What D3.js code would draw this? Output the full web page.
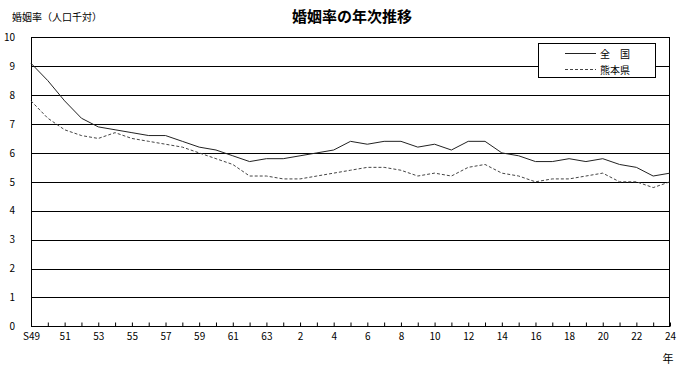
<!DOCTYPE html>
<html>
<head>
<meta charset="utf-8">
<script src="https://cdn.jsdelivr.net/npm/d3@7"></script>
<style>
  body { margin: 0; background: #fff; }
  svg text { font-family: "Noto Sans CJK JP", "Liberation Sans", sans-serif; }
</style>
</head>
<body>
<div id="chart"></div>
<script>
const years = [
  "S49", "S50", "S51", "S52", "S53", "S54", "S55", "S56", "S57", "S58",
  "S59", "S60", "S61", "S62", "S63",
  "H1", "H2", "H3", "H4", "H5", "H6", "H7", "H8", "H9", "H10",
  "H11", "H12", "H13", "H14", "H15", "H16", "H17", "H18", "H19", "H20",
  "H21", "H22", "H23", "H24"
];
// every other year gets a label
const tickLabels = [
  "S49", "", "51", "", "53", "", "55", "", "57", "", "59", "", "61", "", "63",
  "", "2", "", "4", "", "6", "", "8", "", "10", "", "12", "", "14", "",
  "16", "", "18", "", "20", "", "22", "", "24"
];
const zenkoku = [
  9.1, 8.5, 7.8, 7.2, 6.9, 6.8, 6.7, 6.6, 6.6, 6.4, 6.2, 6.1, 5.9, 5.7, 5.8,
  5.8, 5.9, 6.0, 6.1, 6.4, 6.3, 6.4, 6.4, 6.2, 6.3, 6.1, 6.4, 6.4, 6.0, 5.9,
  5.7, 5.7, 5.8, 5.7, 5.8, 5.6, 5.5, 5.2, 5.3
];
const kumamoto = [
  7.8, 7.2, 6.8, 6.6, 6.5, 6.7, 6.5, 6.4, 6.3, 6.2, 6.0, 5.8, 5.6, 5.2, 5.2,
  5.1, 5.1, 5.2, 5.3, 5.4, 5.5, 5.5, 5.4, 5.2, 5.3, 5.2, 5.5, 5.6, 5.3, 5.2,
  5.0, 5.1, 5.1, 5.2, 5.3, 5.0, 5.0, 4.8, 5.0
];
const yTicks = [0, 1, 2, 3, 4, 5, 6, 7, 8, 9, 10];

const width = 692;
const height = 369;
const plotLeft = 31, plotRight = 670, plotTop = 37.3, plotBottom = 326.3;

const svg = d3.select("#chart").append("svg")
  .attr("width", width)
  .attr("height", height);

const x = d3.scaleLinear().domain([0, years.length - 1]).range([plotLeft, plotRight]);
const y = d3.scaleLinear().domain([0, 10]).range([plotBottom, plotTop]);

// grid
svg.append("g")
  .selectAll("line")
  .data(yTicks.filter((d) => d > 0 && d < 10))
  .enter()
  .append("line")
  .attr("x1", plotLeft)
  .attr("x2", plotRight)
  .attr("y1", (d) => Math.round(y(d)) + 0.5)
  .attr("y2", (d) => Math.round(y(d)) + 0.5)
  .attr("stroke", "#000")
  .attr("stroke-width", 1);

// frame
svg.append("rect")
  .attr("x", plotLeft + 0.5)
  .attr("y", Math.round(plotTop) + 0.5)
  .attr("width", plotRight - plotLeft - 1)
  .attr("height", Math.round(plotBottom) - Math.round(plotTop))
  .attr("fill", "none")
  .attr("stroke", "#000");

// y axis labels
const yAxis = svg.append("g")
  .attr("transform", `translate(${plotLeft},0)`)
  .call(d3.axisLeft(y).tickValues(yTicks).tickSize(0).tickPadding(16));
yAxis.select(".domain").remove();
yAxis.selectAll("text").attr("font-size", 10).attr("fill", "#000");

// x axis: inner ticks + labels
const xAxis = svg.append("g")
  .attr("transform", `translate(0,${Math.round(plotBottom) + 0.5})`)
  .call(
    d3.axisBottom(x)
      .tickValues(d3.range(years.length))
      .tickSize(-4)
      .tickPadding(6)
      .tickFormat((i) => tickLabels[i])
  );
xAxis.select(".domain").remove();
xAxis.selectAll("line").attr("stroke", "#000");
xAxis.selectAll("text").attr("font-size", 10).attr("fill", "#000");

// series
const line = d3.line()
  .x((d, i) => x(i))
  .y((d) => y(d));

svg.append("path")
  .datum(zenkoku)
  .attr("d", line)
  .attr("fill", "none")
  .attr("stroke", "#222")
  .attr("stroke-width", 1);

svg.append("path")
  .datum(kumamoto)
  .attr("d", line)
  .attr("fill", "none")
  .attr("stroke", "#444")
  .attr("stroke-width", 1)
  .attr("stroke-dasharray", "3,2");

// titles
svg.append("text")
  .attr("x", 352)
  .attr("y", 22)
  .attr("text-anchor", "middle")
  .attr("font-size", 15)
  .attr("font-weight", "bold")
  .text("婚姻率の年次推移");

svg.append("text")
  .attr("x", 12)
  .attr("y", 21)
  .attr("font-size", 10)
  .text("婚姻率（人口千対）");

svg.append("text")
  .attr("x", 668)
  .attr("y", 363)
  .attr("text-anchor", "middle")
  .attr("font-size", 11)
  .text("年");

// legend
const legend = svg.append("g");
legend.append("rect")
  .attr("x", 538.5)
  .attr("y", 43.5)
  .attr("width", 117)
  .attr("height", 34)
  .attr("fill", "#fff")
  .attr("stroke", "#000");

const legendItems = [
  { name: "全　国", dash: null, stroke: "#222" },
  { name: "熊本県", dash: "3,2", stroke: "#444" }
];
legendItems.forEach((item, i) => {
  const ly = 53.5 + i * 16;
  legend.append("line")
    .attr("x1", 565)
    .attr("x2", 596)
    .attr("y1", ly)
    .attr("y2", ly)
    .attr("stroke", item.stroke)
    .attr("stroke-dasharray", item.dash);
  legend.append("text")
    .attr("x", 600)
    .attr("y", ly + 4)
    .attr("font-size", 10)
    .text(item.name);
});
</script>
</body>
</html>
